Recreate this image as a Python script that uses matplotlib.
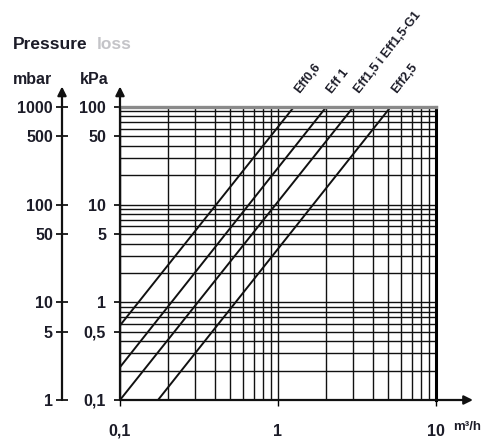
import numpy as np
import matplotlib
matplotlib.use("Agg")
import matplotlib.pyplot as plt
from matplotlib.ticker import FixedLocator, LogLocator, NullFormatter

plt.rcParams['font.family'] = ['Liberation Sans', 'DejaVu Sans']

# valve curves: flow (m3/h) and pressure loss (kPa) at the ends of each line
names = ['Eff0,6', 'Eff 1', 'Eff1,5 i Eff1,5-G1', 'Eff2,5']
flow_start = [0.1, 0.1, 0.1, 0.174]
loss_start = [0.58, 0.217, 0.1, 0.1]
flow_end = [1.26, 2.02, 3.0, 5.16]
loss_end = [100, 100, 100, 100]

kpa_ticks = [0.1, 0.5, 1, 5, 10, 50, 100]
kpa_labels = ['0,1', '0,5', '1', '5', '10', '50', '100']
mbar_ticks = [1, 5, 10, 50, 100, 500, 1000]
mbar_labels = ['1', '5', '10', '50', '100', '500', '1000']
flow_ticks = [0.1, 1, 10]
flow_labels = ['0,1', '1', '10']

txt = '#1c1c28'
W, H = 491, 441
fs = 11.5
fw = 'bold'

fig = plt.figure(figsize=(W / 100, H / 100), dpi=100)
ax = fig.add_axes([120 / W, 1 - 400 / H, 316 / W, 293 / H])
ax.set_xscale('log')
ax.set_yscale('log')
ax.set_xlim(0.1, 10)
ax.set_ylim(0.1, 100)

ax.xaxis.set_major_locator(FixedLocator(flow_ticks))
ax.set_xticklabels(flow_labels, fontweight=fw)
ax.yaxis.set_major_locator(FixedLocator(kpa_ticks))
ax.set_yticklabels(kpa_labels, fontweight=fw)
for axis in (ax.xaxis, ax.yaxis):
    axis.set_minor_locator(LogLocator(base=10, subs=np.arange(2, 10), numticks=100))
    axis.set_minor_formatter(NullFormatter())

ax.grid(which='both', color='#111111', lw=1.0)
ax.tick_params(which='minor', length=0)
ax.tick_params(axis='y', which='major', direction='out', length=4, width=1.2,
               pad=6, labelsize=fs, labelcolor=txt)
ax.tick_params(axis='x', which='major', direction='out', length=4, width=1,
               pad=13, labelsize=fs, labelcolor=txt)

for s in ['left', 'bottom']:
    ax.spines[s].set_visible(False)
ax.spines['right'].set_linewidth(2.2)
ax.spines['top'].set_linewidth(2.4)
ax.spines['top'].set_color('#8a8a8a')

for i in range(len(names)):
    ax.plot([flow_start[i], flow_end[i]], [loss_start[i], loss_end[i]],
            color='#111111', lw=1.4)
    ax.annotate(names[i], xy=(flow_end[i], loss_end[i]), xytext=(6, 8),
                textcoords='offset points', rotation=52, rotation_mode='anchor',
                ha='left', va='bottom', fontsize=9, color=txt,
                fontweight=fw, annotation_clip=False)

arrow = dict(arrowstyle='-|>', lw=1.6, color='#111111', mutation_scale=13,
             shrinkA=0, shrinkB=0)
ax.annotate('', xy=(0, 1.07), xytext=(0, 0), xycoords='axes fraction',
            arrowprops=arrow)
ax.annotate('', xy=(1.117, 0), xytext=(0, 0), xycoords='axes fraction',
            arrowprops=arrow)

# mbar scale on the far left
ax2 = fig.add_axes([62 / W, 1 - 400 / H, 0.0005, 293 / H])
ax2.patch.set_alpha(0)
ax2.set_yscale('log')
ax2.set_ylim(1, 1000)
ax2.yaxis.set_major_locator(FixedLocator(mbar_ticks))
ax2.set_yticklabels(mbar_labels, fontweight=fw)
ax2.yaxis.set_minor_locator(FixedLocator([]))
ax2.set_xticks([])
for s in ['left', 'right', 'top', 'bottom']:
    ax2.spines[s].set_visible(False)
ax2.tick_params(axis='y', direction='inout', length=9, width=1.2, pad=2,
                labelsize=fs, labelcolor=txt)
ax2.annotate('', xy=(0, 1.07), xytext=(0, 0), xycoords='axes fraction',
             arrowprops=arrow)

fig.text(13 / W, 1 - 49 / H, 'Pressure', fontsize=12.5, color=txt,
         fontweight=fw, va='baseline')
fig.text(97 / W, 1 - 49 / H, 'loss', fontsize=12.5, color='#c4c4c8',
         fontweight=fw, va='baseline')
fig.text(13 / W, 1 - 84 / H, 'mbar', fontsize=fs, color=txt,
         fontweight=fw, va='baseline')
fig.text(80 / W, 1 - 84 / H, 'kPa', fontsize=fs, color=txt,
         fontweight=fw, va='baseline')
fig.text(467 / W, 1 - 427 / H, 'm³/h', fontsize=9.5, color=txt,
         fontweight=fw, ha='center', va='center')

fig.savefig('out.png', dpi=100)
